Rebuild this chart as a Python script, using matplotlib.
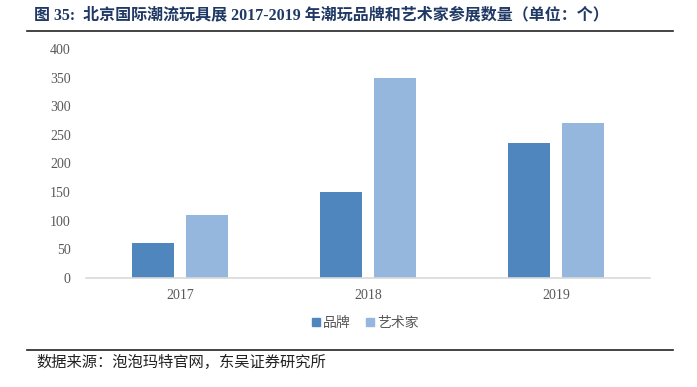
import matplotlib
matplotlib.use("Agg")
import matplotlib.pyplot as plt
from matplotlib.lines import Line2D
import numpy as np

plt.rcParams["font.family"] = ["Liberation Serif", "Noto Sans CJK SC", "DejaVu Sans"]

years = ["2017", "2018", "2019"]
brands = [61, 150, 235]
artists = [110, 350, 270]
yticks = [0, 50, 100, 150, 200, 250, 300, 350, 400]

C_BRAND = "#4f86bd"
C_ARTIST = "#95b7de"
C_TXT = "#595959"

fig = plt.figure(figsize=(6.97, 3.87), dpi=100)
W, H = 697, 387
ax = fig.add_axes([86 / W, 1 - 278 / H, (650 - 86) / W, (278 - 49) / H])

x = np.arange(len(years))
bw = 0.225
off = 0.142
ax.bar(x - off, brands, bw, color=C_BRAND, label="品牌")
ax.bar(x + off, artists, bw, color=C_ARTIST, label="艺术家")

ax.set_xlim(-0.5, 2.5)
ax.set_ylim(0, 400)
ax.set_yticks(yticks)
ax.set_xticks(x)
ax.set_xticklabels(years)
ax.tick_params(axis="both", length=0, labelsize=10, colors=C_TXT)
ax.tick_params(axis="y", pad=11)
ax.tick_params(axis="x", pad=8)
for s in ["top", "right", "left"]:
    ax.spines[s].set_visible(False)
ax.spines["bottom"].set_color("#d9d9d9")
ax.spines["bottom"].set_linewidth(1.2)

handles = [Line2D([], [], marker="s", linestyle="", color=C_BRAND, markersize=5.5),
           Line2D([], [], marker="s", linestyle="", color=C_ARTIST, markersize=5.5)]
fig.legend(handles, ["品牌", "艺术家"], loc="center", bbox_to_anchor=(362 / W, 1 - 323 / H),
           ncol=2, frameon=False, handletextpad=-0.2, columnspacing=0.6, handlelength=1.5,
           prop={"family": ["Noto Sans CJK SC"], "size": 10}, labelcolor=C_TXT)

# title and rules
fig.text(34 / W, 1 - 15 / H, "图 35:  北京国际潮流玩具展 2017-2019 年潮玩品牌和艺术家参展数量（单位：个）",
         ha="left", va="center", fontsize=11.5, fontweight="bold", color="#1f3864",
         family=["Liberation Serif", "Noto Sans CJK SC", "DejaVu Sans"])
fig.add_artist(Line2D([27 / W, 673 / W], [1 - 31 / H, 1 - 31 / H], color="#222222", lw=1.2))
fig.add_artist(Line2D([27 / W, 673 / W], [1 - 350 / H, 1 - 350 / H], color="#222222", lw=1.2))
fig.text(36 / W, 1 - 362 / H, "数据来源：泡泡玛特官网，东吴证券研究所", ha="left", va="center",
         fontsize=11, color="#222222", family=["Noto Sans CJK SC", "DejaVu Sans"])

fig.savefig("out.png", dpi=100)
